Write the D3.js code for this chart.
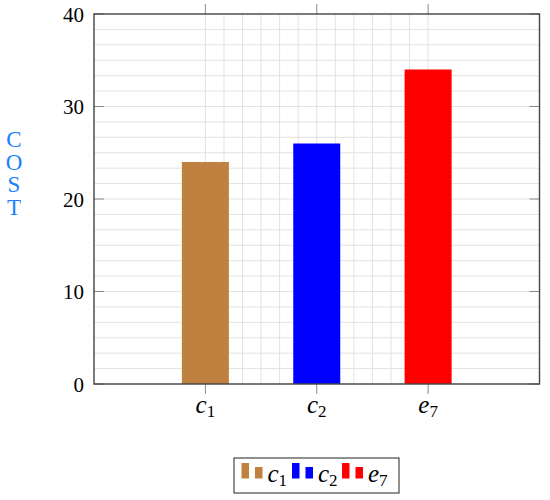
<!DOCTYPE html>
<html>
<head>
<meta charset="utf-8">
<script src="https://cdn.jsdelivr.net/npm/d3@7"></script>
<style>
  body { margin: 0; background: #fff; }
  text { font-family: "Liberation Serif", "DejaVu Serif", serif; }
</style>
</head>
<body>
<svg id="svg" width="550" height="500"></svg>
<script>
// chart data
const categories = ["c", "c", "e"];
const subscripts = ["1", "2", "7"];
const costs = [24, 26, 34];
const colors = ["#bf8040", "#0000ff", "#ff0000"];
const yTicks = [0, 10, 20, 30, 40];

const svg = d3.select("#svg");
const plotL = 94, plotR = 539.5, plotT = 14, plotB = 384;

const x = d3.scaleLinear().domain([-1, 3]).range([plotL, plotR]);
const y = d3.scaleLinear().domain([0, 40]).range([plotB, plotT]);

// grid
const grid = svg.append("g").attr("stroke", "#e2e2e2").attr("stroke-width", 1);
const hLines = d3.range(0, 24).map(i => i * 10 / 6);
grid.selectAll("line.h").data(hLines).join("line").attr("class", "h")
  .attr("x1", plotL).attr("x2", plotR)
  .attr("y1", d => y(d)).attr("y2", d => y(d));
const vLines = d3.range(0, 13).map(i => i / 6);
grid.selectAll("line.v").data(vLines).join("line").attr("class", "v")
  .attr("x1", d => x(d)).attr("x2", d => x(d))
  .attr("y1", plotT).attr("y2", plotB);

// bars
const barW = 47;
svg.append("g").selectAll("rect").data(costs).join("rect")
  .attr("x", (d, i) => x(i) - barW / 2)
  .attr("width", barW)
  .attr("y", d => y(d))
  .attr("height", d => y(0) - y(d))
  .attr("fill", (d, i) => colors[i]);

// ticks
const ticks = svg.append("g").attr("stroke", "#8a8a8a").attr("stroke-width", 1);
ticks.selectAll("line.yl").data(yTicks).join("line").attr("class", "yl")
  .attr("x1", plotL).attr("x2", plotL + 10)
  .attr("y1", d => y(d)).attr("y2", d => y(d));
ticks.selectAll("line.yr").data(yTicks).join("line").attr("class", "yr")
  .attr("x1", plotR - 10).attr("x2", plotR)
  .attr("y1", d => y(d)).attr("y2", d => y(d));
ticks.selectAll("line.xb").data(costs).join("line").attr("class", "xb")
  .attr("x1", (d, i) => x(i)).attr("x2", (d, i) => x(i))
  .attr("y1", plotB).attr("y2", plotB + 10);
ticks.selectAll("line.xt").data(costs).join("line").attr("class", "xt")
  .attr("x1", (d, i) => x(i)).attr("x2", (d, i) => x(i))
  .attr("y1", plotT - 10).attr("y2", plotT);

// axis frame
svg.append("rect")
  .attr("x", plotL).attr("y", plotT)
  .attr("width", plotR - plotL).attr("height", plotB - plotT)
  .attr("fill", "none").attr("stroke", "#444").attr("stroke-width", 1.4);

// y tick labels
svg.append("g").selectAll("text").data(yTicks).join("text")
  .attr("x", plotL - 10).attr("y", d => y(d) + 7.5)
  .attr("text-anchor", "end").attr("font-size", 21)
  .text(d => d);

// x tick labels
const xl = svg.append("g").selectAll("text").data(categories).join("text")
  .attr("x", (d, i) => x(i)).attr("y", 413)
  .attr("text-anchor", "middle").attr("font-size", 25);
xl.append("tspan").attr("font-style", "italic").text(d => d);
xl.append("tspan").attr("font-size", 17).attr("dy", 4).text((d, i) => subscripts[i]);

// y label, stacked letters
svg.append("g").selectAll("text").data("COST".split("")).join("text")
  .attr("x", 14).attr("y", (d, i) => 147 + i * 22.7)
  .attr("text-anchor", "middle").attr("font-size", 23)
  .attr("fill", "#1a80ff")
  .text(d => d);

// legend
const lg = svg.append("g");
lg.append("rect").attr("x", 234).attr("y", 458).attr("width", 165).attr("height", 35)
  .attr("fill", "#fff").attr("stroke", "#222").attr("stroke-width", 1);
const entryX = [241.5, 292, 342];
const items = lg.selectAll("g").data(categories).join("g")
  .attr("transform", (d, i) => `translate(${entryX[i]},0)`);
items.append("rect").attr("x", 0).attr("y", 463).attr("width", 7.5).attr("height", 15.5)
  .attr("fill", (d, i) => colors[i]);
items.append("rect").attr("x", 13.5).attr("y", 467).attr("width", 7.5).attr("height", 11.5)
  .attr("fill", (d, i) => colors[i]);
const lt = items.append("text").attr("x", 26).attr("y", 482).attr("font-size", 25);
lt.append("tspan").attr("font-style", "italic").text(d => d);
lt.append("tspan").attr("font-size", 17).attr("dy", 4).text((d, i) => subscripts[i]);
</script>
</body>
</html>
